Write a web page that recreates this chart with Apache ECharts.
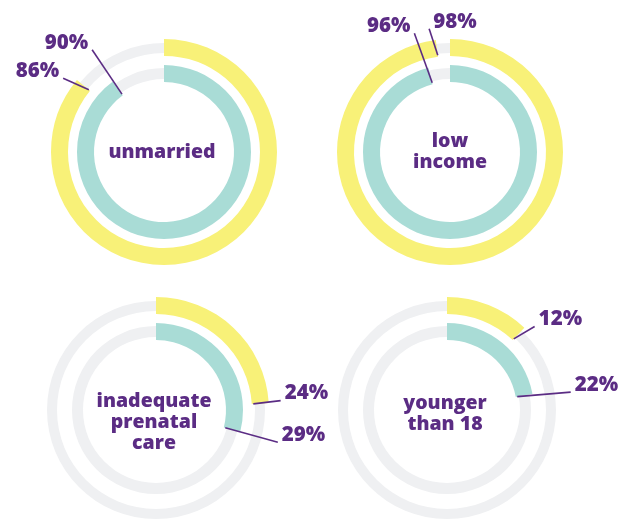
<!DOCTYPE html>
<html lang="en">
<head>
  <meta charset="UTF-8">
  <title>Donut rings</title>
  <script src="https://cdn.jsdelivr.net/npm/echarts@6/dist/echarts.min.js"></script>
  <style>html, body { margin: 0; padding: 0; background: #fff; }</style>
</head>
<body>
<div id="main" style="width: 623px;height: 521px"></div>
<script>
  // data
  var groups = ['unmarried', 'low\nincome', 'inadequate\nprenatal\ncare', 'younger\nthan 18'];
  var yellowValues = [86, 98, 24, 12];
  var tealValues = [90, 96, 29, 22];

  // layout
  var centers = [[164, 152], [450, 152], [156, 410], [447, 410]];
  var textShift = [[-2, 0], [0, 0], [-2, 12], [-2, 4]];
  var yellowSide = ['left', 'right', 'right', 'right'];
  var tealSide = ['left', 'left', 'right', 'right'];
  // [angle nudge of the outer end in degrees, length of the leader]
  var yellowLeader = [[-3.4, 125], [-2.4, 125], [-0.7, 125], [3.2, 121]];
  var tealLeader = [[0.9, 125], [-2.3, 124], [0.4, 126], [2.6, 125]];

  var YELLOW = '#f8f178', TEAL = '#a9dcd6', TRACK = '#eff0f2', PURPLE = '#5b2c84';
  var FONT = '"Open Sans", sans-serif';

  var outerBand = [96, 113], outerTrack = [99, 109];
  var innerBand = [70, 87], innerTrack = [73, 84];

  var chart = echarts.init(document.getElementById('main'));

  function track(center, radius) {
    return {
      type: 'pie', center: center, radius: radius, silent: true, animation: false,
      label: {show: false}, labelLine: {show: false},
      itemStyle: {borderWidth: 0},
      data: [{value: 100, itemStyle: {color: TRACK}}]
    };
  }

  function ring(center, radius, value, color) {
    return {
      type: 'pie', center: center, radius: radius, startAngle: 90, clockwise: true,
      silent: true, animation: false,
      label: {show: false}, labelLine: {show: false},
      itemStyle: {borderWidth: 0},
      data: [
        {value: value, itemStyle: {color: color}},
        {value: 100 - value, itemStyle: {color: 'rgba(0,0,0,0)'}}
      ]
    };
  }

  // leader line from the end of the arc out to the percentage label
  function leader(c, value, rIn, side, cfg) {
    var a = value / 100 * Math.PI * 2;
    var b = a + cfg[0] * Math.PI / 180;
    var x2 = c[0] + cfg[1] * Math.sin(b), y2 = c[1] - cfg[1] * Math.cos(b);
    return [
      {
        type: 'line', z: 100,
        shape: {x1: c[0] + rIn * Math.sin(a), y1: c[1] - rIn * Math.cos(a), x2: x2, y2: y2},
        style: {stroke: PURPLE, lineWidth: 1.6}
      },
      {
        type: 'text', z: 100,
        x: side === 'left' ? x2 - 4 : x2 + 4, y: y2 - 7,
        style: {
          text: value + '%', fill: PURPLE, fontFamily: FONT, fontWeight: 800, fontSize: 20.5,
          align: side === 'left' ? 'right' : 'left', verticalAlign: 'middle'
        }
      }
    ];
  }

  var series = [];
  var graphics = [];
  for (var i = 0; i < groups.length; i++) {
    var c = centers[i];
    series.push(track(c, outerTrack));
    series.push(track(c, innerTrack));
    series.push(ring(c, outerBand, yellowValues[i], YELLOW));
    series.push(ring(c, innerBand, tealValues[i], TEAL));

    graphics = graphics.concat(leader(c, yellowValues[i], outerBand[0] + 1.5, yellowSide[i], yellowLeader[i]));
    graphics = graphics.concat(leader(c, tealValues[i], innerBand[0] + 1.5, tealSide[i], tealLeader[i]));
    graphics.push({
      type: 'text', z: 100, x: c[0] + textShift[i][0], y: c[1] + textShift[i][1],
      style: {
        text: groups[i], fill: PURPLE, fontFamily: FONT, fontWeight: 800, fontSize: 19.5,
        lineHeight: 21, align: 'center', verticalAlign: 'middle'
      }
    });
  }

  option = {
    backgroundColor: '#fff',
    animation: false,
    series: series,
    graphic: graphics
  };

  chart.setOption(option);
</script>
</body>
</html>
